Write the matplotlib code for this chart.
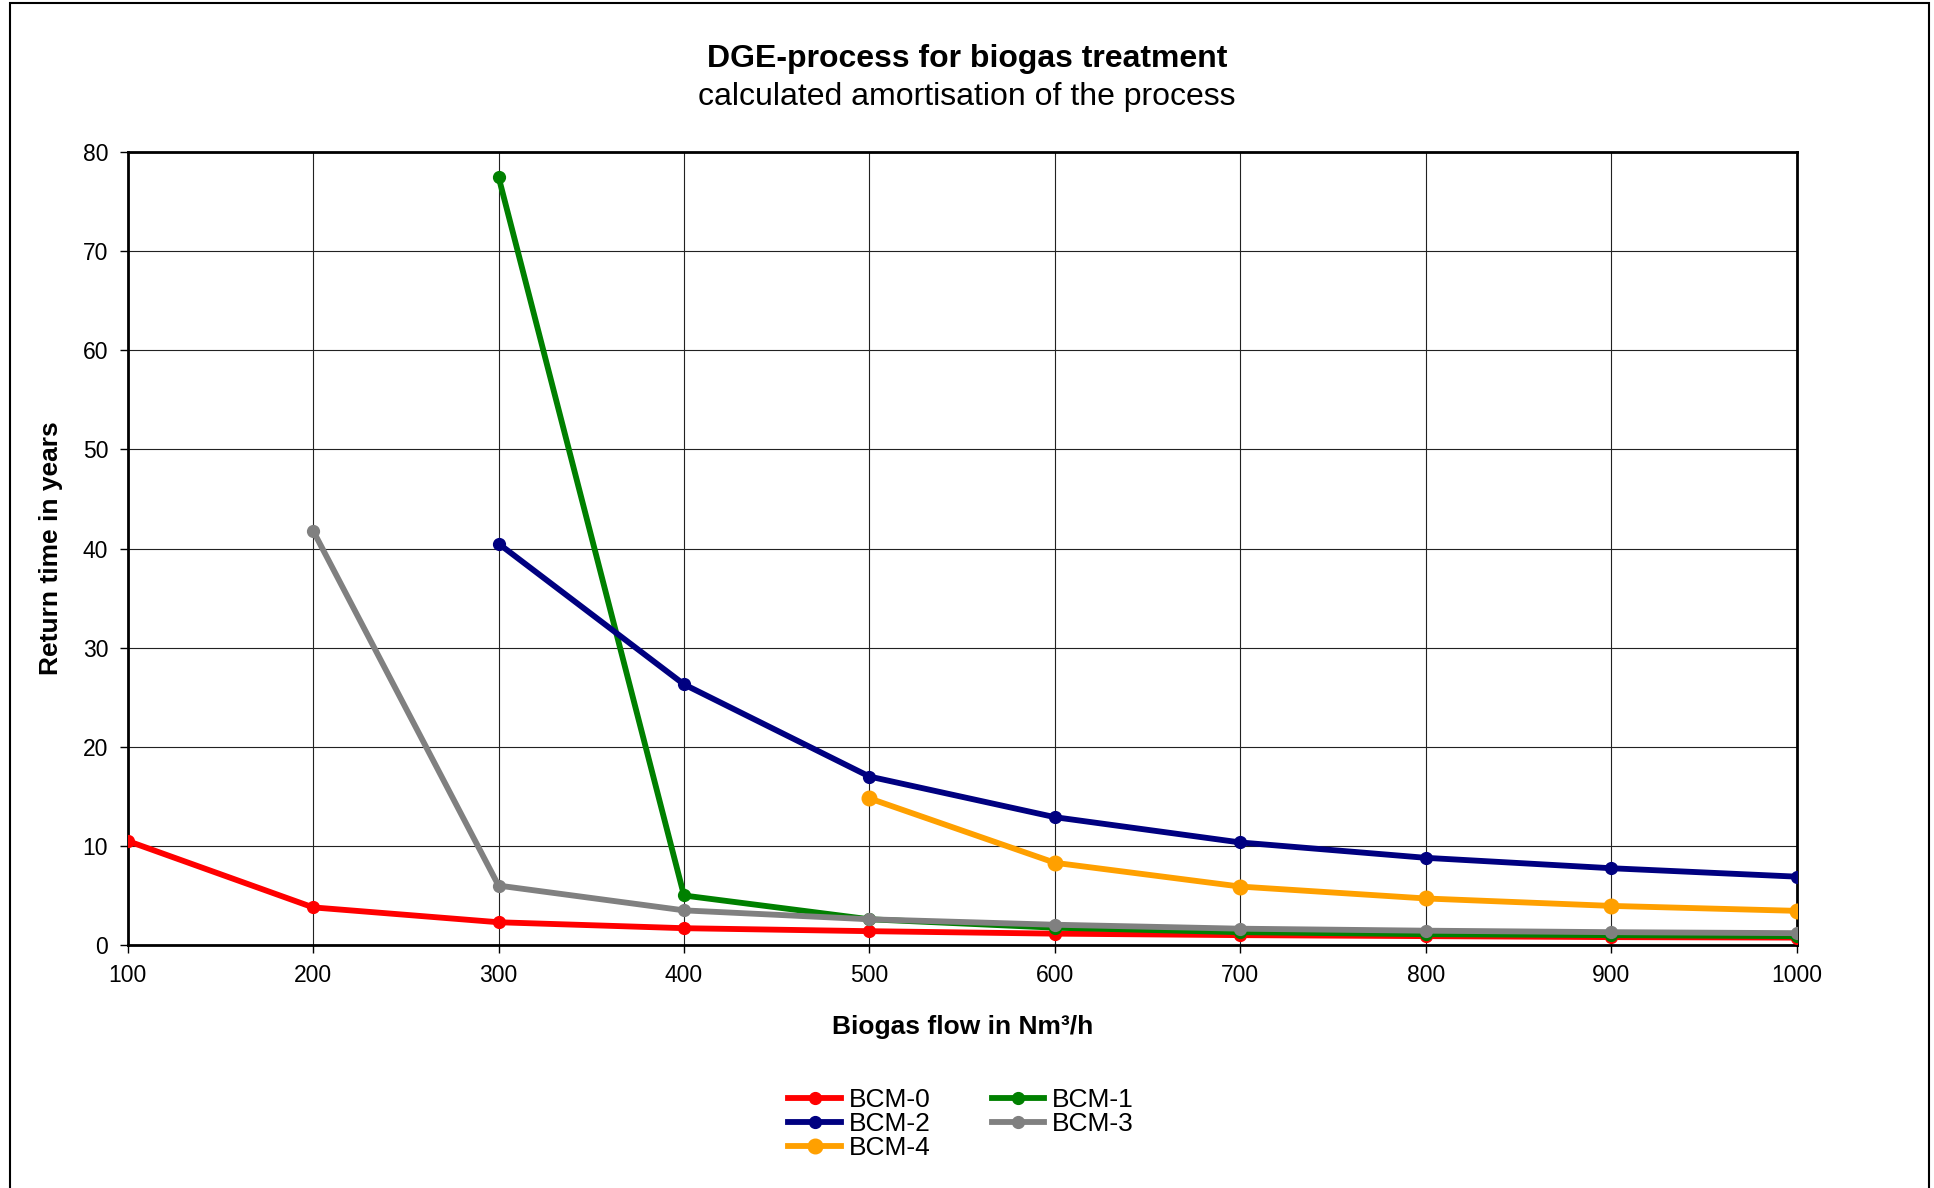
"""
DGE-process for biogas treatment - calculated amortisation
"""

import matplotlib
matplotlib.use('Agg')
import matplotlib.pyplot as plt
from matplotlib.patches import Rectangle

plt.rcParams['font.family'] = ['Liberation Sans', 'DejaVu Sans']

# Biogas flow (Nm3/h)
flow = [100, 200, 300, 400, 500, 600, 700, 800, 900, 1000]

# Return time in years (None = no value)
bcm0 = [10.5, 3.8, 2.3, 1.7, 1.4, 1.15, 1.0, 0.9, 0.8, 0.75]
bcm1 = [None, None, 77.5, 5.0, 2.6, 1.75, 1.3, 1.1, 1.0, 0.9]
bcm2 = [None, None, 40.5, 26.3, 17.0, 12.9, 10.35, 8.8, 7.75, 6.9]
bcm3 = [None, 41.8, 6.0, 3.5, 2.6, 2.05, 1.65, 1.45, 1.3, 1.2]
bcm4 = [None, None, None, None, 14.8, 8.3, 5.9, 4.7, 3.95, 3.45]

series = [
    ('BCM-0', bcm0, '#FF0000', 8.5),
    ('BCM-1', bcm1, '#008000', 8.5),
    ('BCM-2', bcm2, '#000080', 8.5),
    ('BCM-3', bcm3, '#808080', 8.5),
    ('BCM-4', bcm4, '#FFA000', 10.5),
]

fig = plt.figure(figsize=(19.34, 11.88), dpi=100)
ax = fig.add_axes([0.066, 0.2045, 0.863, 0.6675])

handles = {}
for name, vals, color, ms in series:
    xs = [x for x, v in zip(flow, vals) if v is not None]
    ys = [v for v in vals if v is not None]
    line, = ax.plot(xs, ys, color=color, linewidth=4.2, marker='o',
                    markersize=ms, label=name, zorder=3)
    handles[name] = line

ax.set_xlim(100, 1000)
ax.set_ylim(0, 80)
ax.set_xticks(flow)
ax.set_yticks(range(0, 81, 10))
ax.grid(True, color='#222222', linewidth=0.8)
ax.tick_params(labelsize=16.5, length=6, width=1, pad=8)
for sp in ax.spines.values():
    sp.set_linewidth(2)

ax.set_xlabel('Biogas flow in Nm³/h', fontsize=19, fontweight='bold', labelpad=20)
ax.set_ylabel('Return time in years', fontsize=19, fontweight='bold', labelpad=14)

fig.text(0.5, 0.9505, 'DGE-process for biogas treatment', ha='center', va='center',
         fontsize=23, fontweight='bold')
fig.text(0.5, 0.918, 'calculated amortisation of the process', ha='center', va='center',
         fontsize=23)

order = ['BCM-0', 'BCM-2', 'BCM-4', 'BCM-1', 'BCM-3']
fig.legend([handles[n] for n in order], order, ncol=2, loc='center',
           bbox_to_anchor=(0.497, 0.054), frameon=False, fontsize=19,
           handlelength=2.0, handletextpad=0.3, columnspacing=2.3,
           labelspacing=0.0)

# outer frame
fig.patches.append(Rectangle((10 / 1934, -0.05), 1919 / 1934, 1.05 - 3 / 1188,
                             transform=fig.transFigure, fill=False,
                             edgecolor='black', linewidth=1.5))

fig.savefig('out.png', dpi=100)
